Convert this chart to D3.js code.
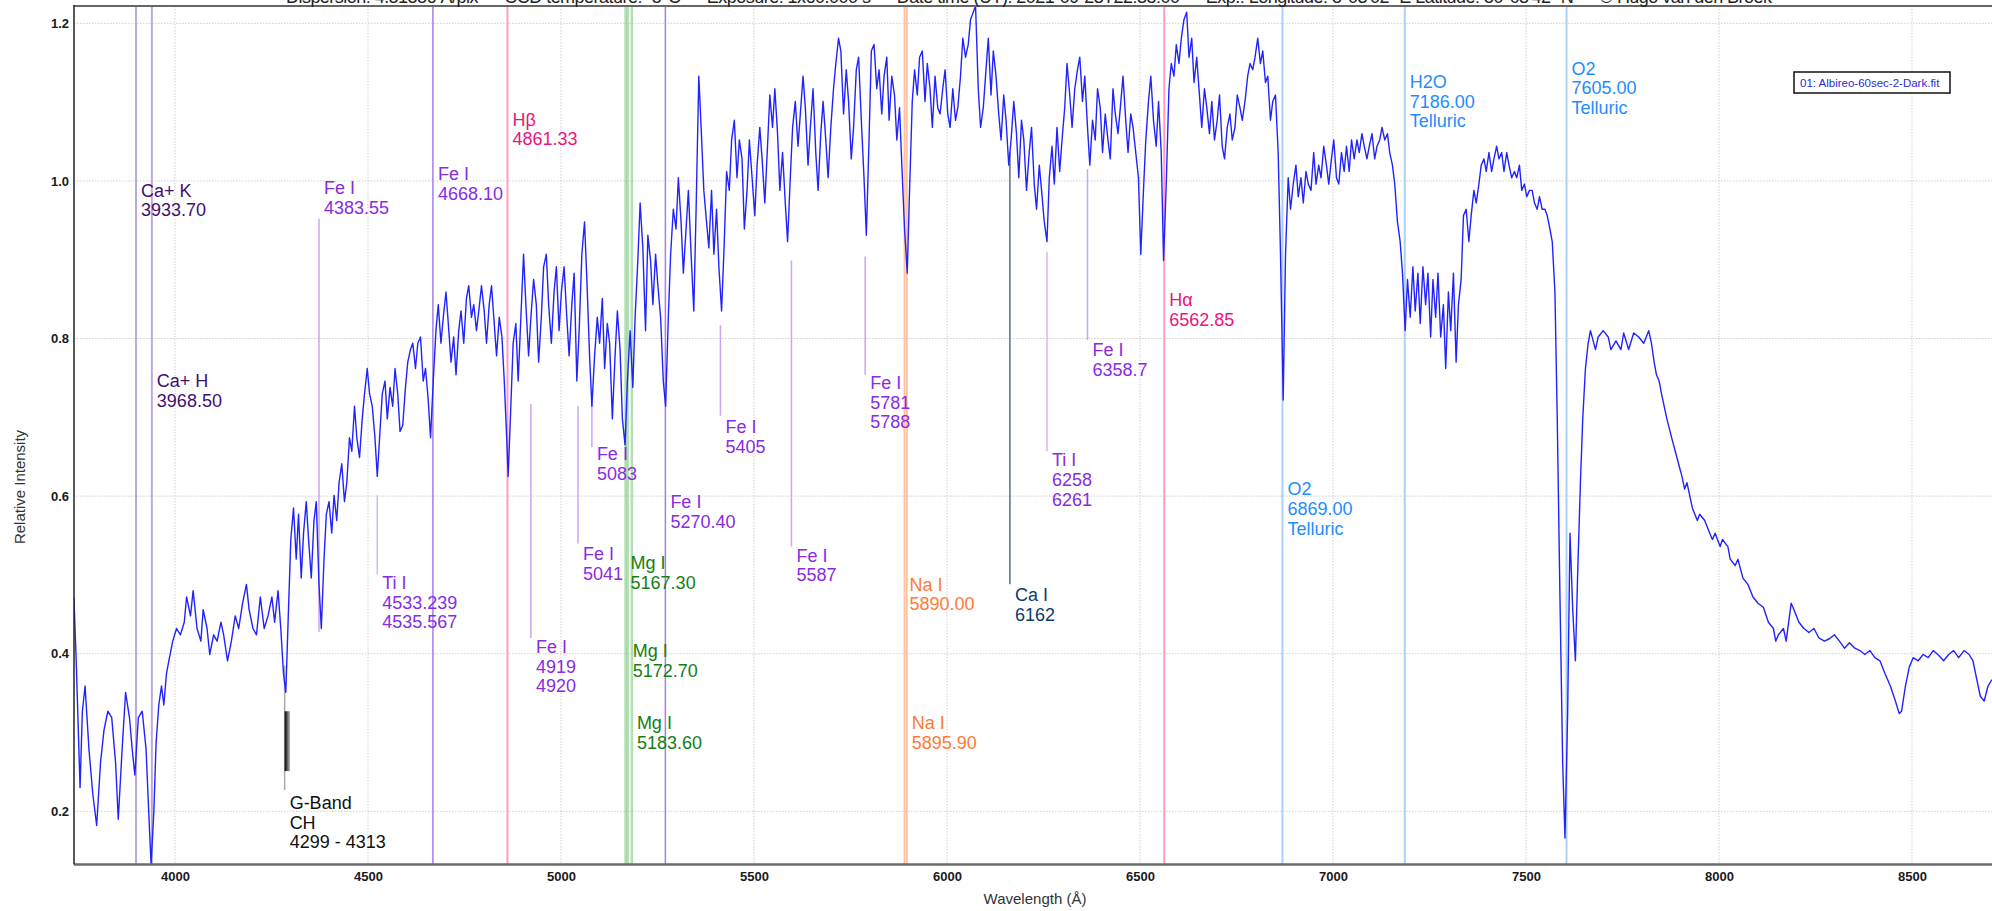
<!DOCTYPE html>
<html>
<head>
<meta charset="utf-8">
<script src="https://cdn.jsdelivr.net/npm/d3@7"></script>
<style>
  body { margin: 0; background: #fff; }
  #chart { width: 1992px; height: 911px; overflow: hidden; }
  text { font-family: "Liberation Sans", Arial, sans-serif; }
</style>
</head>
<body>
<div id="chart"></div>
<script>
// [wavelength (Å), relative intensity]
const spectrum = [
  [3738,.472],[3744,.391],[3754,.230],[3760,.327],[3767,.359],[3777,.279],[3787,.222],[3797,.182],[3807,.262],[3816,.303],
  [3826,.327],[3836,.319],[3846,.262],[3853,.190],[3863,.279],[3872,.351],[3882,.319],[3889,.279],[3896,.246],[3905,.319],
  [3915,.327],[3925,.279],[3932,.198],[3938,.133],[3945,.198],[3951,.287],[3958,.335],[3965,.359],[3971,.335],[3978,.375],
  [3984,.391],[3994,.416],[4004,.432],[4014,.424],[4024,.440],[4030,.472],[4040,.448],[4047,.480],[4057,.432],[4067,.416],
  [4073,.456],[4083,.432],[4090,.399],[4100,.424],[4109,.416],[4119,.440],[4126,.424],[4136,.391],[4146,.416],[4156,.448],
  [4165,.432],[4175,.464],[4185,.488],[4192,.456],[4202,.432],[4211,.424],[4221,.472],[4231,.432],[4241,.448],[4251,.472],
  [4258,.440],[4267,.480],[4274,.432],[4281,.375],[4287,.351],[4294,.456],[4300,.545],[4307,.585],[4314,.520],[4320,.577],
  [4327,.496],[4333,.553],[4340,.593],[4346,.545],[4353,.496],[4360,.569],[4366,.593],[4373,.488],[4379,.432],[4386,.520],
  [4392,.577],[4399,.593],[4406,.553],[4412,.601],[4419,.569],[4425,.617],[4432,.641],[4439,.593],[4445,.617],[4452,.674],
  [4458,.657],[4465,.714],[4471,.674],[4478,.649],[4485,.698],[4491,.730],[4498,.762],[4504,.730],[4511,.714],[4518,.674],
  [4524,.625],[4531,.682],[4537,.730],[4544,.746],[4550,.698],[4557,.738],[4564,.714],[4570,.762],[4577,.730],[4583,.682],
  [4590,.690],[4597,.738],[4603,.770],[4610,.786],[4616,.794],[4623,.762],[4629,.794],[4636,.802],[4643,.746],[4649,.762],
  [4656,.722],[4662,.674],[4669,.746],[4676,.810],[4682,.843],[4689,.794],[4695,.827],[4702,.859],[4708,.819],[4715,.770],
  [4722,.802],[4728,.754],[4735,.810],[4741,.835],[4748,.794],[4755,.851],[4761,.867],[4768,.827],[4774,.843],[4781,.810],
  [4787,.835],[4794,.867],[4801,.835],[4807,.794],[4814,.843],[4820,.867],[4827,.819],[4833,.778],[4840,.827],[4847,.802],
  [4853,.746],[4860,.665],[4863,.625],[4870,.714],[4876,.794],[4883,.819],[4889,.746],[4896,.827],[4903,.907],[4909,.843],
  [4916,.778],[4922,.827],[4929,.875],[4936,.843],[4942,.770],[4949,.827],[4955,.891],[4962,.907],[4968,.843],[4975,.794],
  [4982,.859],[4988,.891],[4995,.810],[5001,.859],[5008,.891],[5015,.827],[5021,.778],[5028,.843],[5034,.883],[5041,.746],
  [5047,.810],[5054,.907],[5061,.948],[5067,.875],[5074,.778],[5080,.714],[5087,.778],[5094,.827],[5100,.794],[5107,.851],
  [5113,.762],[5120,.819],[5126,.794],[5133,.698],[5140,.778],[5146,.835],[5153,.786],[5159,.698],[5166,.665],[5172,.746],
  [5179,.810],[5186,.738],[5192,.827],[5199,.899],[5205,.972],[5212,.915],[5219,.810],[5225,.931],[5232,.899],[5238,.843],
  [5245,.907],[5251,.867],[5258,.827],[5265,.746],[5271,.714],[5278,.827],[5284,.907],[5291,.964],[5298,.939],[5304,1.004],
  [5311,.948],[5317,.883],[5324,.939],[5330,.988],[5337,.907],[5344,.835],[5350,.964],[5357,1.133],[5363,1.068],[5370,.988],
  [5377,.948],[5383,.915],[5390,.988],[5396,.907],[5403,.964],[5409,.891],[5416,.835],[5423,.923],[5429,1.012],[5436,.988],
  [5442,1.052],[5449,1.077],[5456,1.004],[5462,1.052],[5469,1.028],[5475,.939],[5482,.988],[5488,1.052],[5495,1.004],[5502,.956],
  [5508,1.020],[5515,1.068],[5521,1.028],[5528,.972],[5535,1.044],[5541,1.109],[5548,1.068],[5554,1.117],[5561,1.060],[5567,.988],
  [5574,1.036],[5581,.972],[5587,.923],[5594,1.004],[5600,1.068],[5607,1.101],[5614,1.044],[5620,1.085],[5627,1.133],[5633,1.093],
  [5640,1.020],[5646,1.068],[5653,1.117],[5660,1.036],[5666,.988],[5673,1.060],[5679,1.101],[5686,1.052],[5692,1.004],[5699,1.068],
  [5706,1.117],[5712,1.149],[5719,1.181],[5725,1.165],[5732,1.085],[5739,1.141],[5745,1.101],[5752,1.028],[5758,1.068],[5765,1.141],
  [5771,1.157],[5778,1.077],[5785,1.004],[5791,.931],[5798,1.052],[5804,1.165],[5811,1.173],[5818,1.117],[5824,1.141],[5831,1.085],
  [5837,1.133],[5844,1.157],[5850,1.077],[5857,1.133],[5864,1.109],[5870,1.052],[5877,1.093],[5883,1.020],[5890,.939],[5897,.883],
  [5903,.988],[5910,1.101],[5916,1.141],[5923,1.109],[5929,1.157],[5936,1.165],[5943,1.101],[5949,1.149],[5956,1.117],[5962,1.068],
  [5969,1.133],[5976,1.093],[5982,1.085],[5989,1.117],[5995,1.141],[6002,1.085],[6008,1.068],[6015,1.117],[6022,1.077],[6028,1.093],
  [6035,1.133],[6041,1.181],[6048,1.157],[6055,1.173],[6061,1.205],[6068,1.214],[6074,1.222],[6081,1.117],[6087,1.068],[6094,1.093],
  [6101,1.141],[6107,1.181],[6114,1.109],[6120,1.165],[6127,1.133],[6134,1.085],[6140,1.052],[6147,1.109],[6153,1.077],[6160,1.020],
  [6166,1.052],[6173,1.101],[6180,1.060],[6186,1.004],[6193,1.077],[6199,1.052],[6206,.988],[6213,1.036],[6219,1.068],[6226,.996],
  [6232,.964],[6239,1.020],[6245,.988],[6252,.948],[6259,.923],[6265,1.004],[6272,1.044],[6278,.996],[6285,1.068],[6292,1.012],
  [6298,1.052],[6305,1.093],[6311,1.149],[6318,1.109],[6324,1.068],[6331,1.117],[6338,1.141],[6344,1.157],[6351,1.101],[6357,1.133],
  [6364,1.068],[6370,1.020],[6377,1.077],[6384,1.052],[6390,1.117],[6397,1.093],[6403,1.036],[6410,1.085],[6417,1.052],[6423,1.028],
  [6430,1.117],[6436,1.085],[6443,1.060],[6449,1.093],[6456,1.133],[6463,1.077],[6469,1.036],[6476,1.085],[6482,1.068],[6489,1.036],
  [6496,1.004],[6502,.907],[6509,.988],[6515,1.052],[6522,1.101],[6528,1.133],[6535,1.077],[6542,1.044],[6548,1.101],[6555,1.036],
  [6561,.899],[6568,.996],[6575,1.117],[6581,1.149],[6588,1.133],[6594,1.173],[6601,1.149],[6607,1.181],[6614,1.205],[6621,1.214],
  [6627,1.157],[6634,1.181],[6640,1.125],[6647,1.157],[6654,1.109],[6660,1.068],[6667,1.117],[6673,1.093],[6680,1.060],[6686,1.101],
  [6693,1.052],[6700,1.077],[6706,1.109],[6713,1.044],[6719,1.028],[6726,1.068],[6733,1.085],[6739,1.052],[6746,1.068],[6752,1.109],
  [6759,1.093],[6765,1.077],[6772,1.101],[6779,1.133],[6785,1.149],[6792,1.141],[6798,1.157],[6805,1.181],[6812,1.149],[6818,1.165],
  [6825,1.125],[6831,1.133],[6838,1.077],[6844,1.101],[6851,1.109],[6858,1.036],[6864,.907],[6871,.722],[6877,.907],[6884,1.004],
  [6890,.964],[6897,.996],[6904,1.020],[6910,.980],[6917,1.004],[6923,.972],[6930,1.012],[6936,.996],[6943,.988],[6950,1.036],
  [6956,.996],[6963,1.020],[6969,1.004],[6976,1.044],[6983,1.020],[6989,.996],[6996,1.028],[7002,1.052],[7009,1.004],[7015,.996],
  [7022,1.036],[7029,1.012],[7035,1.044],[7042,1.012],[7048,1.052],[7055,1.028],[7062,1.052],[7068,1.036],[7075,1.060],[7081,1.044],
  [7088,1.028],[7094,1.044],[7101,1.060],[7108,1.028],[7114,1.044],[7121,1.052],[7127,1.068],[7134,1.052],[7141,1.060],[7147,1.036],
  [7154,1.020],[7160,.996],[7167,.948],[7174,.923],[7180,.883],[7187,.810],[7193,.875],[7200,.827],[7207,.891],[7213,.835],
  [7220,.883],[7226,.819],[7233,.891],[7240,.843],[7246,.883],[7253,.802],[7259,.875],[7266,.827],[7272,.883],[7279,.802],
  [7286,.843],[7292,.762],[7299,.859],[7305,.810],[7312,.883],[7319,.770],[7325,.843],[7332,.875],[7338,.956],[7345,.964],
  [7352,.923],[7358,.956],[7365,.988],[7371,.972],[7378,.996],[7384,1.020],[7391,1.028],[7397,1.012],[7404,1.036],[7411,1.012],
  [7417,1.028],[7424,1.044],[7430,1.028],[7437,1.036],[7443,1.012],[7450,1.036],[7456,1.020],[7463,1.004],[7470,1.012],[7476,1.004],
  [7483,1.020],[7489,.988],[7496,.996],[7502,.980],[7509,.988],[7516,.988],[7522,.972],[7529,.964],[7535,.980],[7542,.964],
  [7549,.964],[7555,.956],[7562,.939],[7568,.923],[7575,.859],[7581,.698],[7588,.472],[7595,.262],[7601,.166],[7608,.327],
  [7614,.553],[7621,.456],[7628,.391],[7634,.504],[7641,.617],[7647,.698],[7654,.762],[7661,.794],[7667,.810],[7680,.786],
  [7687,.802],[7700,.810],[7713,.802],[7720,.786],[7733,.797],[7746,.786],[7753,.807],[7766,.786],[7779,.807],[7792,.802],
  [7805,.794],[7818,.810],[7825,.794],[7832,.770],[7838,.754],[7845,.746],[7851,.730],[7865,.698],[7878,.673],[7891,.649],
  [7904,.625],[7911,.609],[7917,.617],[7931,.585],[7944,.569],[7950,.577],[7963,.569],[7976,.553],[7983,.545],[7990,.553],
  [8003,.536],[8009,.545],[8023,.536],[8029,.520],[8042,.512],[8049,.520],[8062,.496],[8075,.488],[8088,.472],[8101,.464],
  [8115,.459],[8128,.440],[8141,.432],[8147,.416],[8154,.424],[8167,.432],[8174,.416],[8187,.464],[8194,.456],[8207,.440],
  [8220,.432],[8233,.427],[8246,.432],[8259,.420],[8273,.416],[8286,.419],[8299,.424],[8312,.416],[8325,.407],[8338,.414],
  [8352,.407],[8365,.404],[8378,.399],[8391,.404],[8404,.395],[8417,.391],[8430,.375],[8444,.359],[8457,.340],[8467,.324],
  [8473,.327],[8483,.359],[8493,.383],[8503,.395],[8516,.391],[8529,.399],[8542,.395],[8555,.404],[8569,.398],[8582,.391],
  [8595,.399],[8608,.404],[8621,.395],[8635,.404],[8648,.399],[8658,.391],[8668,.367],[8677,.346],[8687,.340],[8697,.359],
  [8707,.367]
];

const xTicks = [4000, 4500, 5000, 5500, 6000, 6500, 7000, 7500, 8000, 8500];
const yTicks = [0.2, 0.4, 0.6, 0.8, 1.0, 1.2];
const xDomain = [3738.3, 8707.3];
const yDomain = [0.1325, 1.222];

// line identifications; top/bottom only for short marker lines
const markers = [
  { at: 3899, kind: 'caII', text: ['Ca+ K', '3933.70'], labelY: 0.988 },
  { at: 3940, kind: 'caII', text: ['Ca+ H', '3968.50'], labelY: 0.746 },
  { at: 4373, kind: 'feTick', top: 0.952, bottom: 0.428, text: ['Fe I', '4383.55'], labelY: 0.991 },
  { at: 4524, kind: 'tiTick', top: 0.601, bottom: 0.501, text: ['Ti I', '4533.239', '4535.567'], labelY: 0.490 },
  { at: 4668.1, kind: 'fe', text: ['Fe I', '4668.10'], labelY: 1.009 },
  { at: 4861.33, kind: 'h', text: ['Hβ', '4861.33'], labelY: 1.078 },
  { at: 4922, kind: 'feTick', top: 0.717, bottom: 0.420, text: ['Fe I', '4919', '4920'], labelY: 0.409 },
  { at: 5044, kind: 'feTick', top: 0.714, bottom: 0.540, text: ['Fe I', '5041'], labelY: 0.527 },
  { at: 5080, kind: 'feTick', top: 0.727, bottom: 0.662, text: ['Fe I', '5083'], labelY: 0.654 },
  { at: 5167.3, kind: 'mg', text: ['Mg I', '5167.30'], labelY: 0.515 },
  { at: 5172.7, kind: 'mg', text: ['Mg I', '5172.70'], labelY: 0.404 },
  { at: 5183.6, kind: 'mg', text: ['Mg I', '5183.60'], labelY: 0.312 },
  { at: 5270.4, kind: 'fe', text: ['Fe I', '5270.40'], labelY: 0.593 },
  { at: 5413, kind: 'feTick', top: 0.817, bottom: 0.702, text: ['Fe I', '5405'], labelY: 0.688 },
  { at: 5597, kind: 'feTick', top: 0.899, bottom: 0.536, text: ['Fe I', '5587'], labelY: 0.525 },
  { at: 5788, kind: 'feTick', top: 0.904, bottom: 0.754, text: ['Fe I', '5781', '5788'], labelY: 0.744 },
  { at: 5890, kind: 'na', text: ['Na I', '5890.00'], labelY: 0.488 },
  { at: 5895.9, kind: 'na', text: ['Na I', '5895.90'], labelY: 0.312 },
  { at: 6163, kind: 'caI', top: 1.036, bottom: 0.488, text: ['Ca I', '6162'], labelY: 0.475 },
  { at: 6259, kind: 'tiTick', top: 0.910, bottom: 0.657, text: ['Ti I', '6258', '6261'], labelY: 0.646 },
  { at: 6364, kind: 'feTick', top: 1.015, bottom: 0.798, text: ['Fe I', '6358.7'], labelY: 0.786 },
  { at: 6562.85, kind: 'h', text: ['Hα', '6562.85'], labelY: 0.849 },
  { at: 6869, kind: 'telluric', text: ['O2', '6869.00', 'Telluric'], labelY: 0.609 },
  { at: 7186, kind: 'telluric', text: ['H2O', '7186.00', 'Telluric'], labelY: 1.126 },
  { at: 7605, kind: 'telluric', text: ['O2', '7605.00', 'Telluric'], labelY: 1.143 }
];

const gBand = { from: 4284, to: 4298, top: 0.385, bandTop: 0.327, bandBottom: 0.251, bottom: 0.227,
                text: ['G-Band', 'CH', '4299 - 4313'], labelY: 0.211 };

const headerText = 'Dispersion: 4.81886 Å/pix  —  CCD temperature: -5°C  —  Exposure: 1x60.000 s  —  Date time (UT): 2021-09-23T22:35:00  —  Exp.: Longitude: 8°03\'02" E  Latitude: 50°03\'42" N  —  © Hugo van den Broek';
const legendText = '01: Albireo-60sec-2-Dark.fit';

const kindStyle = {
  caII:     { stroke: '#bba8dc', width: 2,   fill: '#3d0f73' },
  fe:       { stroke: '#a47ff0', width: 1.5, fill: '#8a2be2' },
  feTick:   { stroke: '#c9a6f3', width: 1.5, fill: '#8a2be2' },
  tiTick:   { stroke: '#d4b8ef', width: 1.5, fill: '#8a2be2' },
  h:        { stroke: '#ff9cc3', width: 2,   fill: '#ea1480' },
  mg:       { stroke: '#7fc97f', width: 2.5, fill: '#138013', opacity: 0.6 },
  na:       { stroke: '#ffc3a6', width: 2,   fill: '#ff7a33' },
  caI:      { stroke: '#4f7386', width: 1.5, fill: '#0e3a6b' },
  telluric: { stroke: '#a9d1fa', width: 2,   fill: '#1f8cff' }
};

class SpectrumChart {

    constructor(_config, _data) {
        this.config = {
            parentElement: _config.parentElement,
            width: 1992,
            height: 911,
            plotLeft: 74,
            plotRight: 1992,
            plotTop: 6,
            plotBottom: 864.5,
            lineHeight: 19.7
        }
        this.data = _data;
        this.initVis();
    }

    initVis() {
        let vis = this;
        const c = vis.config;

        vis.svg = d3.select(c.parentElement).append('svg')
            .attr('width', c.width)
            .attr('height', c.height);

        vis.x = d3.scaleLinear().domain(xDomain).range([c.plotLeft, c.plotRight]);
        vis.y = d3.scaleLinear().domain(yDomain).range([c.plotBottom, c.plotTop]);

        vis.svg.append('clipPath').attr('id', 'plot-clip')
            .append('rect')
            .attr('x', c.plotLeft).attr('y', c.plotTop)
            .attr('width', c.plotRight - c.plotLeft).attr('height', c.plotBottom - c.plotTop);

        // gradient for the G-band bar
        const grad = vis.svg.append('defs').append('linearGradient')
            .attr('id', 'gband-grad').attr('x1', '0%').attr('x2', '100%');
        grad.append('stop').attr('offset', '0%').attr('stop-color', '#000');
        grad.append('stop').attr('offset', '100%').attr('stop-color', '#bbb');

        vis.grid = vis.svg.append('g').attr('class', 'grid');
        vis.lineLayer = vis.svg.append('g').attr('class', 'lines');
        vis.labelLayer = vis.svg.append('g').attr('class', 'labels');
        vis.plot = vis.svg.append('g').attr('clip-path', 'url(#plot-clip)');
        vis.axes = vis.svg.append('g').attr('class', 'axes');

        vis.updateVis();
    }

    updateVis() {
        let vis = this;
        const c = vis.config;

        // dotted grid
        vis.grid.selectAll('.vgrid').data(xTicks).join('line')
            .attr('class', 'vgrid')
            .attr('x1', d => vis.x(d)).attr('x2', d => vis.x(d))
            .attr('y1', c.plotTop).attr('y2', c.plotBottom)
            .attr('stroke', '#cfcfcf').attr('stroke-dasharray', '1.5,1.5');
        vis.grid.selectAll('.hgrid').data(yTicks).join('line')
            .attr('class', 'hgrid')
            .attr('x1', c.plotLeft).attr('x2', c.plotRight)
            .attr('y1', d => vis.y(d)).attr('y2', d => vis.y(d))
            .attr('stroke', '#cfcfcf').attr('stroke-dasharray', '1.5,1.5');

        // identification lines
        vis.lineLayer.selectAll('.mark').data(markers).join('line')
            .attr('class', 'mark')
            .attr('x1', d => vis.x(d.at)).attr('x2', d => vis.x(d.at))
            .attr('y1', d => d.top !== undefined ? vis.y(d.top) : c.plotTop)
            .attr('y2', d => d.bottom !== undefined ? vis.y(d.bottom) : c.plotBottom)
            .attr('stroke', d => kindStyle[d.kind].stroke)
            .attr('stroke-width', d => kindStyle[d.kind].width)
            .attr('stroke-opacity', d => kindStyle[d.kind].opacity || 1);

        // G-band marker
        vis.lineLayer.append('line')
            .attr('x1', vis.x(gBand.from)).attr('x2', vis.x(gBand.from))
            .attr('y1', vis.y(gBand.top)).attr('y2', vis.y(gBand.bottom))
            .attr('stroke', '#aaa').attr('stroke-width', 1.5);
        vis.lineLayer.append('rect')
            .attr('x', vis.x(gBand.from)).attr('y', vis.y(gBand.bandTop))
            .attr('width', vis.x(gBand.to) - vis.x(gBand.from))
            .attr('height', vis.y(gBand.bandBottom) - vis.y(gBand.bandTop))
            .attr('fill', 'url(#gband-grad)');

        vis.renderLabels(markers.map(d => ({ at: d.at, text: d.text, labelY: d.labelY, fill: kindStyle[d.kind].fill }))
            .concat([{ at: gBand.from, text: gBand.text, labelY: gBand.labelY, fill: '#111' }]));

        // spectrum
        const line = d3.line().x(d => vis.x(d[0])).y(d => vis.y(d[1]));
        vis.plot.append('path')
            .datum(vis.data)
            .attr('d', line)
            .attr('fill', 'none')
            .attr('stroke', '#2222ff')
            .attr('stroke-width', 1.4)
            .attr('stroke-linejoin', 'round');

        vis.renderVis();
    }

    renderLabels(items) {
        let vis = this;
        const texts = vis.labelLayer.selectAll('text').data(items).join('text')
            .attr('x', d => vis.x(d.at) + 5)
            .attr('y', d => vis.y(d.labelY))
            .attr('fill', d => d.fill)
            .style('font-size', '18px');
        texts.selectAll('tspan').data(d => d.text.map(t => ({ t, x: vis.x(d.at) + 5 }))).join('tspan')
            .attr('x', d => d.x)
            .attr('dy', (d, i) => i === 0 ? '0.35em' : vis.config.lineHeight)
            .text(d => d.t);
    }

    renderVis() {
        let vis = this;
        const c = vis.config;

        // frame
        vis.axes.append('line')
            .attr('x1', c.plotLeft).attr('x2', c.plotRight)
            .attr('y1', c.plotTop).attr('y2', c.plotTop)
            .attr('stroke', '#666').attr('stroke-width', 2);
        vis.axes.append('line')
            .attr('x1', c.plotLeft).attr('x2', c.plotRight)
            .attr('y1', c.plotBottom).attr('y2', c.plotBottom)
            .attr('stroke', '#6a6a6a').attr('stroke-width', 2.5);
        vis.axes.append('line')
            .attr('x1', c.plotLeft).attr('x2', c.plotLeft)
            .attr('y1', c.plotTop - 1).attr('y2', c.plotBottom)
            .attr('stroke', '#222').attr('stroke-width', 1.5);

        const xAxis = d3.axisBottom(vis.x).tickValues(xTicks).tickSize(0).tickPadding(7).tickFormat(d3.format('d'));
        const yAxis = d3.axisLeft(vis.y).tickValues(yTicks).tickSize(0).tickPadding(5).tickFormat(d3.format('.1f'));

        const gx = vis.axes.append('g').attr('transform', `translate(0,${c.plotBottom})`).call(xAxis);
        const gy = vis.axes.append('g').attr('transform', `translate(${c.plotLeft},0)`).call(yAxis);
        [gx, gy].forEach(g => {
            g.select('.domain').remove();
            g.selectAll('text')
                .attr('fill', '#1a1a1a')
                .style('font-size', '13px')
                .style('font-weight', 'bold')
                .style('font-family', '"Liberation Sans", Arial, sans-serif');
        });

        vis.axes.append('text')
            .attr('x', 1035).attr('y', 898)
            .attr('text-anchor', 'middle').attr('dominant-baseline', 'central')
            .attr('fill', '#333').style('font-size', '15px')
            .text('Wavelength (Å)');
        vis.axes.append('text')
            .attr('transform', 'translate(19,487) rotate(-90)')
            .attr('text-anchor', 'middle').attr('dominant-baseline', 'central')
            .attr('fill', '#333').style('font-size', '15px')
            .text('Relative Intensity');

        // header, mostly cut off at the top edge
        vis.svg.append('text')
            .attr('x', 286).attr('y', 3)
            .attr('textLength', 1486).attr('lengthAdjust', 'spacing')
            .attr('fill', '#222').style('font-size', '18px')
            .text(headerText);

        // legend
        const lg = vis.svg.append('g');
        lg.append('rect')
            .attr('x', 1794).attr('y', 72).attr('width', 156).attr('height', 21)
            .attr('fill', '#fff').attr('stroke', '#111').attr('stroke-width', 1.5);
        lg.append('text')
            .attr('x', 1800).attr('y', 83).attr('dominant-baseline', 'central')
            .attr('fill', '#2b2bd6').style('font-size', '11.5px')
            .text(legendText);
    }
}

new SpectrumChart({ parentElement: '#chart' }, spectrum);
</script>
</body>
</html>
